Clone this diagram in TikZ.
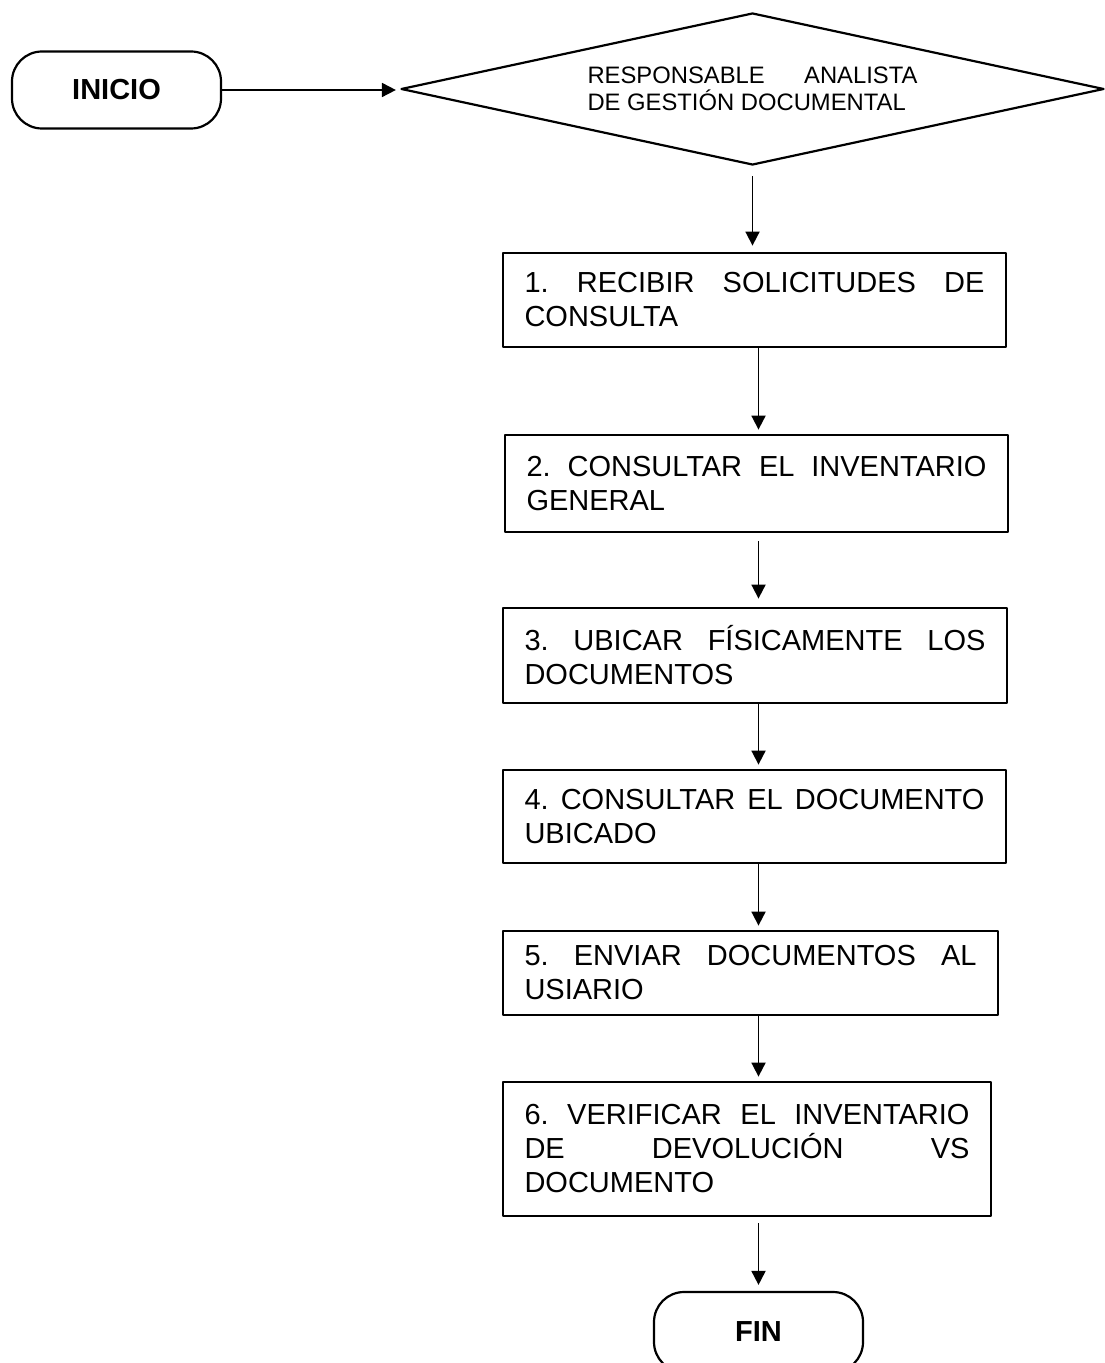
\documentclass[tikz,border=0pt]{standalone}
\usepackage{fontspec}
\setmainfont{Liberation Sans}
\usetikzlibrary{shapes.geometric,arrows.meta}
\tolerance=10000
\hyphenpenalty=10000
\frenchspacing

\begin{document}
\begin{tikzpicture}[x=0.5pt, y=-0.5pt, line join=round,
  term/.style={draw, line width=1.1pt, rounded corners=15pt, minimum width=104.5pt, minimum height=38.5pt, inner sep=0pt, font=\fontsize{14.5}{17}\selectfont\bfseries},
  resp/.style={draw, diamond, aspect=4.625, line width=1.1pt, minimum width=351.5pt, minimum height=76pt, inner sep=0pt, text width=165pt, align=justify, font=\fontsize{11.9}{13.5}\selectfont},
  stepbox/.style={draw, line width=1.4pt, inner xsep=10.75pt, inner ysep=0pt, align=justify, font=\fontsize{14.5}{17}\selectfont},
  arr/.style={-{Triangle[length=7pt,width=7pt]}, line width=0.9pt, shorten >=2pt}]
\useasboundingbox (0,0) rectangle (1104,1363);

\node[term] (inicio) at (116.5,90) {INICIO};
\node[resp] (dia) at (752.5,89) {RESPONSABLE ANALISTA\linebreak DE GESTIÓN DOCUMENTAL};

\node[stepbox, text width=230pt, minimum height=47pt] (b1) at (754.5,300) {1. RECIBIR SOLICITUDES DE\linebreak CONSULTA};
\node[stepbox, text width=230pt, minimum height=48.5pt] (b2) at (756.5,483.5) {2. CONSULTAR EL INVENTARIO\linebreak GENERAL};
\node[stepbox, text width=230.5pt, minimum height=47.5pt] (b3) at (755,655.5) {3. UBICAR FÍSICAMENTE LOS\linebreak DOCUMENTOS};
\node[stepbox, text width=230pt, minimum height=46.5pt] (b4) at (754.5,816.5) {4. CONSULTAR EL DOCUMENTO\linebreak UBICADO};
\node[stepbox, text width=226pt, minimum height=42pt] (b5) at (750.5,973) {5. ENVIAR DOCUMENTOS AL\linebreak USIARIO};
\node[stepbox, text width=222.5pt, minimum height=67pt] (b6) at (747,1149) {6. VERIFICAR EL INVENTARIO\linebreak DE DEVOLUCIÓN VS\linebreak DOCUMENTO};
\node[term, minimum height=40pt] (fin) at (758.5,1332) {FIN};

\draw[arr] (inicio.east) -- (inicio.east -| dia.west);
\draw[arr] ([yshift=-5pt]dia.south) -- ([yshift=1pt]dia.south |- b1.north);
\draw[arr] (b1.south -| fin) -- (b2.north -| fin);
\draw[arr] ([yshift=-4pt]b2.south -| fin) -- ([yshift=2pt]b3.north -| fin);
\draw[arr] (b3.south -| fin) -- (b4.north -| fin);
\draw[arr] (b4.south -| fin) -- (b5.north -| fin);
\draw[arr] (b5.south -| fin) -- (b6.north -| fin);
\draw[arr] ([yshift=-3pt]b6.south -| fin) -- ([yshift=1pt]fin.north);
\end{tikzpicture}
\end{document}
